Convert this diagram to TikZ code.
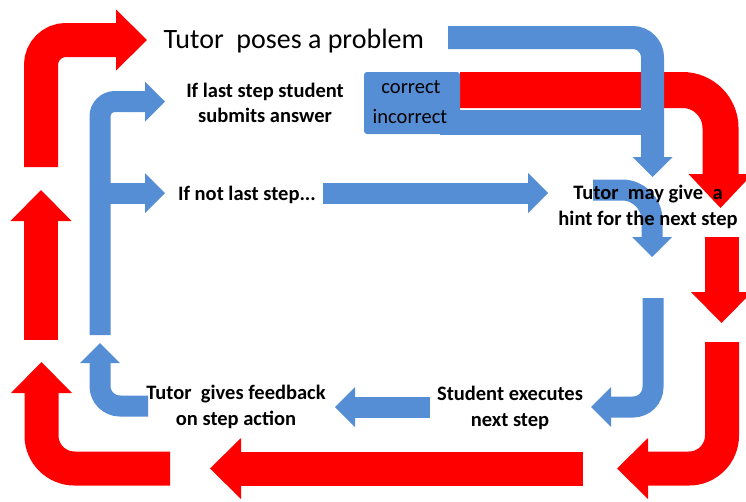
\documentclass[tikz,border=0pt]{standalone}
\usepackage{fontspec}
\setmainfont{Carlito}
\usetikzlibrary{arrows.meta}
\definecolor{loopred}{RGB}{255,0,0}
\definecolor{loopblue}{RGB}{85,142,213}
\begin{document}
\begin{tikzpicture}[x=1pt, y=-1pt,
	redarrow/.style={draw=loopred, line width=34pt, -{Triangle[width=61pt,length=31pt,line width=0pt]}},
	bluearrow/.style={draw=loopblue, line width=21pt, -{Triangle[width=40pt,length=20pt,line width=0pt]}},
	lbl/.style={align=center, anchor=base, font=\bfseries\fontsize{20.5}{25.4}\selectfont}]
		\useasboundingbox (0,0) rectangle (746,501);
		% outer loop (red)
		\draw[redarrow, rounded corners=25pt] (41,167) -- (41,40) -- (147,40);
		\draw[redarrow, line width=36pt, rounded corners=38pt, -{Triangle[width=64pt,length=34pt,line width=0pt]}] (460,90) -- (720.5,90) -- (720.5,208);
		\draw[redarrow] (721.5,237) -- (721.5,323);
		\draw[redarrow, rounded corners=33pt] (722,342) -- (722,468.5) -- (617,468.5);
		\draw[redarrow] (583,468.5) -- (210,468.5);
		\draw[redarrow, rounded corners=33pt] (170,468.5) -- (41.5,468.5) -- (41.5,362);
		\draw[redarrow] (41,340) -- (41,190);
		% inner loop (blue)
		\draw[bluearrow, line width=23pt, rounded corners=20pt] (448,37.5) -- (652.5,37.5) -- (652.5,177);
		\draw[draw=loopblue, line width=25pt] (440,122.5) -- (653,122.5);
		\draw[bluearrow, rounded corners=30pt] (593,190) -- (652,190) -- (652,257);
		\draw[bluearrow, rounded corners=20pt] (653,298) -- (653,407) -- (591,407);
		\draw[bluearrow] (430,407) -- (335,407);
		\draw[bluearrow, rounded corners=20pt] (148,406) -- (100,406) -- (100,343);
		\draw[bluearrow, rounded corners=15pt] (100,335) -- (100,101.5) -- (165,101.5);
		\draw[bluearrow] (100,193) -- (165,193);
		\draw[bluearrow] (323,193) -- (548,193);
		\fill[loopblue, rounded corners=3pt] (364,72) rectangle (460,134);
		% texts
		\node[anchor=base west, font=\fontsize{28}{32}\selectfont] (pose) at (160,48) {Tutor~ poses a problem};
		\node[lbl] (lastq) at (265,122.7) {If last step student\\submits answer};
		\node[lbl, font=\fontsize{20.5}{25.4}\selectfont] (right) at (411,93) {correct};
		\node[lbl, font=\fontsize{20.5}{25.4}\selectfont] (wrong) at (410,123) {incorrect};
		\node[lbl] (notlast) at (247,200) {If not last step...};
		\node[lbl] (hint) at (648,225) {Tutor~ may give~ a\\hint for the next step};
		\node[lbl] (exec) at (510,426) {Student executes\\next step};
		\node[lbl] (feed) at (236,425) {Tutor~ gives feedback\\on step action};
\end{tikzpicture}
\end{document}
